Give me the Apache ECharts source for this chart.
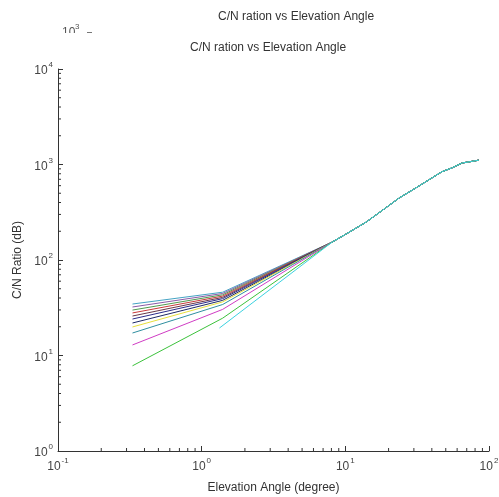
<!DOCTYPE html>
<html>
<head>
<meta charset="utf-8">
<script src="https://cdn.jsdelivr.net/npm/echarts@6/dist/echarts.min.js"></script>
<style>
  html, body { margin: 0; padding: 0; background: #fff; }
  #chart { width: 499px; height: 497px; }
</style>
</head>
<body>
<div id="chart"></div>
<script>
// elevation angles (degree) where the curves have points
const startAngle = 0.33
const bendAngle = 1.4
const cyanStartAngle = 1.33

// C/N at the first angle, top curve to bottom curve
const startValues = [34.6, 32.2, 29.9, 27.9, 25.9, 24.1, 21.9, 19.9, 17.2, 12.9, 7.8]
// C/N at the bend (~1.4 deg)
const bendValues = [46, 44.6, 43.2, 41.9, 40.6, 39.4, 37.8, 36.4, 34.2, 30.4, 24.6]
const cyanStartValue = 19.4

// shared part of every curve after they merge
const tailAngles = [8.1, 10, 14, 18, 23.7, 30, 40, 47, 55, 65, 75, 85]
const tailValues = [154, 185, 250, 329, 446, 552, 722, 840, 919, 1037, 1075, 1110]

const lineColors = ['#45a3c4', '#8a5aa8', '#4f9a4f', '#c83a3a', '#6a3848', '#2c2c8a',
  '#1e2a66', '#e6df3c', '#2f8fa0', '#d03cc4', '#3cc23c']
const cyanColor = '#3cd2e0'

const xMinor = [0.2, 0.3, 0.4, 0.5, 0.6, 0.7, 0.8, 0.9, 2, 3, 4, 5, 6, 7, 8, 9, 20, 30, 40, 50, 60, 70, 80, 90]
const yMinor = [2, 3, 4, 5, 6, 7, 8, 9, 20, 30, 40, 50, 60, 70, 80, 90,
  200, 300, 400, 500, 600, 700, 800, 900, 2000, 3000, 4000, 5000, 6000, 7000, 8000, 9000]

const chart = echarts.init(document.getElementById('chart'))

function tail () {
  return tailAngles.map((a, i) => [a, tailValues[i]])
}

const series = startValues.map((v, i) => ({
  type: 'line',
  showSymbol: false,
  silent: true,
  lineStyle: { width: 1, color: lineColors[i] },
  data: [[startAngle, v], [bendAngle, bendValues[i]]].concat(tail())
}))
series.push({
  type: 'line',
  showSymbol: false,
  silent: true,
  lineStyle: { width: 1, color: cyanColor },
  data: [[cyanStartAngle, cyanStartValue]].concat(tail())
})

// minor ticks of the log axes (inside, like matlab)
const minorData = xMinor.map(v => [v, 1, 0]).concat(yMinor.map(v => [0.1, v, 1]))
series.push({
  type: 'custom',
  silent: true,
  clip: false,
  data: minorData,
  renderItem: function (params, api) {
    const p = api.coord([api.value(0), api.value(1)])
    const vert = api.value(2) === 0
    return {
      type: 'line',
      shape: vert
        ? { x1: p[0], y1: p[1], x2: p[0], y2: p[1] - 3 }
        : { x1: p[0], y1: p[1], x2: p[0] + 3, y2: p[1] },
      style: { stroke: '#333', lineWidth: 1 }
    }
  }
})

const powLabel = function (value) {
  const e = Math.round(Math.log10(value))
  return '{b|10}{e|' + e + '}'
}
const rich = {
  b: { fontSize: 12, fontFamily: 'Liberation Sans', color: '#444', verticalAlign: 'bottom', lineHeight: 16 },
  e: { fontSize: 8, fontFamily: 'Liberation Sans', color: '#444', verticalAlign: 'top', lineHeight: 8, padding: [0, 0, 0, 1] }
}

const option = {
  animation: false,
  backgroundColor: '#fff',
  grid: { left: 58, right: 10, top: 69, bottom: 46, outerBoundsMode: 'none', containLabel: false },
  xAxis: {
    type: 'log',
    logBase: 10,
    min: 0.1,
    max: 100,
    name: 'Elevation Angle (degree)',
    nameLocation: 'middle',
    nameGap: 31,
    nameTextStyle: { fontSize: 12, fontFamily: 'Liberation Sans', color: '#333' },
    axisLine: { lineStyle: { color: '#333', width: 1 } },
    axisTick: { inside: true, length: 5, lineStyle: { color: '#333' } },
    axisLabel: { formatter: powLabel, rich: rich, margin: 6 },
    splitLine: { show: false }
  },
  yAxis: {
    type: 'log',
    logBase: 10,
    min: 1,
    max: 10000,
    name: 'C/N Ratio (dB)',
    nameLocation: 'middle',
    nameGap: 29,
    nameTextStyle: { fontSize: 12, fontFamily: 'Liberation Sans', color: '#333' },
    axisLine: { lineStyle: { color: '#333', width: 1 } },
    axisTick: { inside: true, length: 5, lineStyle: { color: '#333' } },
    axisLabel: { formatter: powLabel, rich: rich, margin: 5 },
    splitLine: { show: false }
  },
  graphic: [
    {
      type: 'text', left: 218, top: 11, z: 10,
      style: { text: 'C/N ration vs Elevation Angle', fontSize: 12, fontFamily: 'Liberation Sans', fill: '#333' }
    },
    {
      type: 'text', left: 62, top: 27, z: 10,
      style: { text: '10', fontSize: 12, fontFamily: 'Liberation Sans', fill: '#555' }
    },
    {
      type: 'text', left: 75, top: 23, z: 10,
      style: { text: '3', fontSize: 8, fontFamily: 'Liberation Sans', fill: '#555' }
    },
    {
      type: 'rect', left: 0, top: 33, z: 11,
      shape: { width: 499, height: 8 },
      style: { fill: '#fff' }
    },
    {
      type: 'rect', left: 87, top: 32, z: 10,
      shape: { width: 5, height: 1 },
      style: { fill: '#777' }
    },
    {
      type: 'text', left: 190, top: 42, z: 12,
      style: { text: 'C/N ration vs Elevation Angle', fontSize: 12, fontFamily: 'Liberation Sans', fill: '#333' }
    }
  ],
  series: series
}

chart.setOption(option)
</script>
</body>
</html>
